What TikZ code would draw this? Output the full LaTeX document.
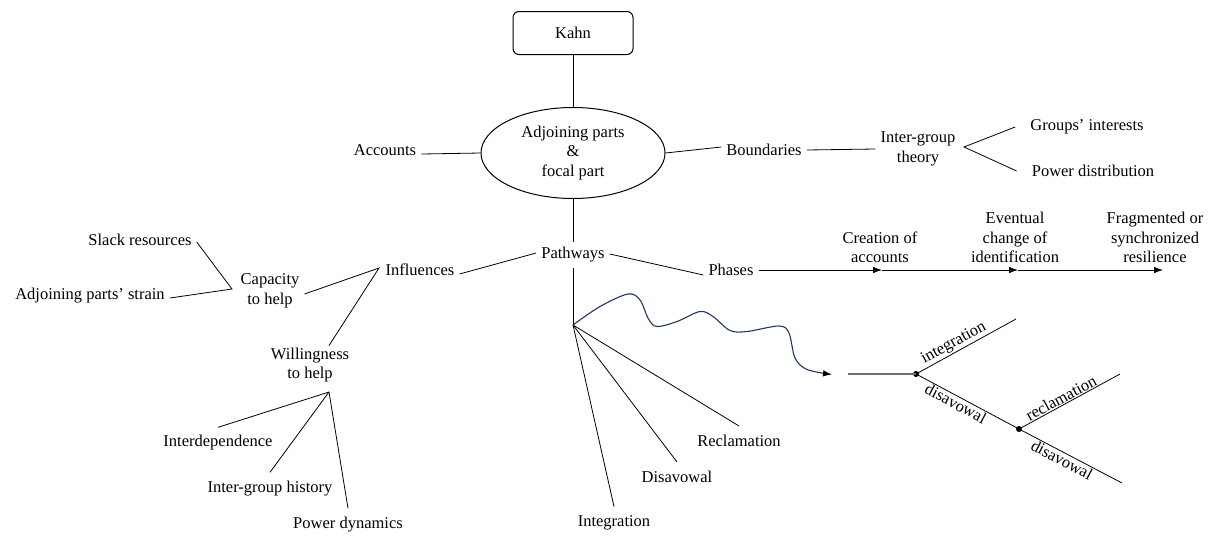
\documentclass[tikz,border=0pt]{standalone}
\usepackage{fontspec}
\setmainfont{Liberation Serif}
\usetikzlibrary{arrows.meta,shapes.geometric}
\definecolor{wavecol}{RGB}{31,56,100}
\definecolor{graycol}{RGB}{110,110,110}
\begin{document}
\begin{tikzpicture}[x=1pt,y=-1pt,
  every node/.style={font=\rmfamily\fontsize{16.5}{19.5}\selectfont},
  txt/.style={align=center, inner sep=5pt},
  conn/.style={line width=0.8pt},
  tip/.style={-{Latex[length=9pt,width=6.5pt]}},
  lbl/.style={inner sep=1pt},
  dot/.style={circle, fill=black, inner sep=0pt, minimum size=6pt}
]
\useasboundingbox (0,0) rectangle (1217,536);

% central part
\node[draw, line width=1pt, rounded corners=6pt, minimum width=120pt, minimum height=43pt] (kahn) at (573,33) {Kahn};
\node[draw, ellipse, line width=1pt, minimum width=184pt, minimum height=91pt, inner sep=0pt, align=center] (ell) at (573,153) {Adjoining parts\\\&\\focal part};
\node[txt] (acc) at (385,150) {Accounts};
\node[txt] (bd) at (764,150) {Boundaries};
\node[txt] (igt) at (918,149) {Inter-group\\theory};
\node[txt] (gi) at (1087,127) {Groups’ interests};
\node[txt] (pdist) at (1093,171) {Power distribution};
\node[txt] (pw) at (573,255) {Pathways};
\node[txt] (infl) at (420,270) {Influences};
\node[txt] (ph) at (731,270) {Phases};

\draw[conn] (kahn.south) -- (ell.north);
\draw[conn] ([yshift=-4pt]acc.east) -- (ell.west);
\draw[conn] (ell.east) -- ([yshift=3pt]bd.west);
\draw[conn] (bd.east) -- (igt.west);
\coordinate (vT) at (964,147);
\draw[conn] ([xshift=-10pt]gi.west) -- (vT) -- ([xshift=-10pt]pdist.west);
\draw[conn] (ell.south) -- (pw.north);
\draw[conn] ([yshift=-4pt]infl.east) -- ([yshift=2pt]pw.west);
\draw[conn] ([yshift=1pt]pw.east) -- ([yshift=-5pt]ph.west);

% phases arrow
\coordinate (a1) at (882,270);
\coordinate (a2) at (1018,270);
\coordinate (a3) at (1163,270);
\draw[conn, tip] (ph.east) -- (a1);
\draw[conn, tip] (a1) -- (a2);
\draw[conn, tip] (a2) -- (a3);
\node[lbl, anchor=south, align=center] (l1) at (880,264) {Creation of\\accounts};
\node[lbl, anchor=south, align=center] (l2) at (1015,264) {Eventual\\change of\\identification};
\node[lbl, anchor=south, align=center] (l3) at (1155,264) {Fragmented or\\synchronized\\resilience};

% influences
\node[txt] (cap) at (270,291) {Capacity\\to help};
\node[txt] (will) at (310,365) {Willingness\\to help};
\node[txt] (slack) at (140,240) {Slack resources};
\node[txt] (strain) at (90,296) {Adjoining parts’ strain};
\coordinate (vI) at (379,268);
\coordinate (vC) at (232,289);
\draw[conn] ([yshift=-3pt]cap.east) -- (vI) -- ([xshift=19pt,yshift=-3pt]will.north);
\draw[conn] ([yshift=-2pt]slack.east) -- (vC) -- ([yshift=-2pt]strain.east);
\coordinate (vW) at (329,392);
\node[txt] (intd) at (218,443) {Interdependence};
\node[txt] (ihist) at (270,489) {Inter-group history};
\node[txt] (pdyn) at (348,525) {Power dynamics};
\draw[conn] (vW) -- ([yshift=3pt]intd.north);
\draw[conn] (vW) -- ([yshift=4pt]ihist.north);
\draw[conn] (vW) -- ([yshift=4pt]pdyn.north);

% pathways branches
\coordinate (br) at (573,325);
\draw[conn] (pw.south) -- (br);
\node[txt] (integ) at (614,523) {Integration};
\node[txt] (disav) at (677,477) {Disavowal};
\node[txt] (recl) at (739,441) {Reclamation};
\draw[conn] (br) -- ([yshift=4pt]integ.north);
\draw[conn] (br) -- ([yshift=4pt]disav.north);
\draw[conn] (br) -- ([yshift=4pt]recl.north);

% wavy arrow
\coordinate (wv) at (832,374.5);
\draw[line width=1.1pt, wavecol, -{Latex[length=9pt,width=6.5pt,color=black]}] plot[smooth, tension=0.55] coordinates {
 (br) (600,306.5) (628,294) (640,300) (648.5,319) (657,326.5) (677,321.5) (700,311.5)
 (713,316.5) (730,330.5) (747,331.5) (779,326) (789,333) (795,358) (807,369.5) (wv)};

% decision tree
\coordinate (d0) at (848,374);
\node[dot] (d1) at (916,374) {};
\node[dot] (d2) at (1019,429) {};
\coordinate (e1) at (1016,319);
\coordinate (e2) at (1120,374);
\coordinate (e3) at (1122,483);
\draw[line width=1.1pt, graycol] (d0) -- (d1.center);
\draw[conn] (d1.center) -- node[lbl, sloped, above, pos=0.42] (t1) {integration} (e1);
\draw[conn] (d1.center) -- node[lbl, sloped, below, pos=0.42] (t2) {disavowal} (d2.center);
\draw[conn] (d2.center) -- node[lbl, sloped, above, pos=0.45] (t3) {reclamation} (e2);
\draw[conn] (d2.center) -- node[lbl, sloped, below, pos=0.45] (t4) {disavowal} (e3);
\end{tikzpicture}
\end{document}
